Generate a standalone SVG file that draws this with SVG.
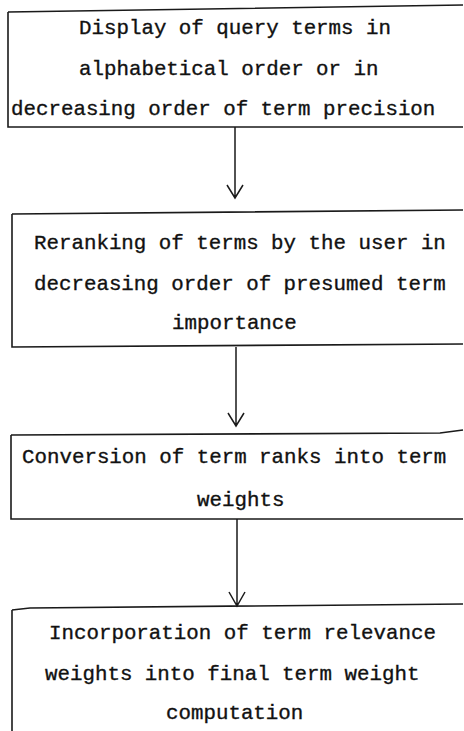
<svg xmlns="http://www.w3.org/2000/svg" width="464" height="731" viewBox="0 0 464 731">
<style>
.box{fill:none;stroke:#1a1a1a;stroke-width:1.6}
.t{font-family:"Liberation Mono","Courier New",monospace;font-size:20.8px;fill:#111;stroke:#111;stroke-width:0.35}
.c{fill:none;stroke:#1a1a1a;stroke-width:1.5}
</style>
<rect width="464" height="731" fill="#fff"/>
<g id="node1">
<path class="box" d="M8,12 L463,5 M8,12 L8,127 L463,127"/>
<text class="t" x="79" y="34">Display of query terms in</text>
<text class="t" x="79" y="75">alphabetical order or in</text>
<text class="t" x="11" y="115">decreasing order of term precision</text>
</g>
<g id="node2">
<path class="box" d="M12,214 L463,210 M12,214 L12,347 L463,344"/>
<text class="t" x="34" y="249">Reranking of terms by the user in</text>
<text class="t" x="34" y="290">decreasing order of presumed term</text>
<text class="t" x="172" y="329">importance</text>
</g>
<g id="node3">
<path class="box" d="M11,435 L440,433 L463,430 M11,435 L11,519 L463,519"/>
<text class="t" x="22" y="463">Conversion of term ranks into term</text>
<text class="t" x="197" y="506">weights</text>
</g>
<g id="node4">
<path class="box" d="M12,610 L30,608 L463,604 M12,610 L12,731"/>
<text class="t" x="49" y="639">Incorporation of term relevance</text>
<text class="t" x="45" y="680">weights into final term weight</text>
<text class="t" x="166" y="719">computation</text>
</g>
<g id="connectors">
<path class="c" d="M235,127 L235,197 M227,185 L235,198 L243,185"/>
<path class="c" d="M236,347 L236,425 M228,413 L236,426 L244,413"/>
<path class="c" d="M237,519 L237,605 M229,592 L237,606 L245,592"/>
</g>
</svg>
